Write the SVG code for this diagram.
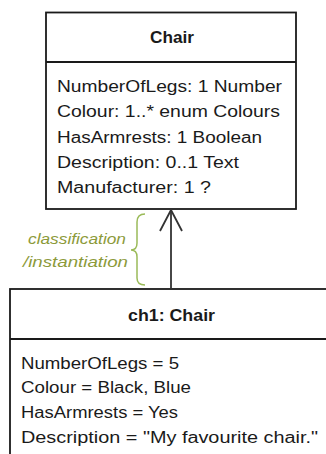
<svg xmlns="http://www.w3.org/2000/svg" width="326" height="454" viewBox="0 0 326 454">
<style>
.box{fill:#fff;stroke:#1a1a1a;stroke-width:1.8}
.t{font-family:"Liberation Sans",Arial,sans-serif;font-size:16px;fill:#1a1a1a}
.b{font-weight:bold;text-anchor:middle}
.g{font-family:"Liberation Sans",Arial,sans-serif;font-size:15px;font-style:italic;fill:#8c9a3a}
.conn{stroke:#333;stroke-width:1.8;fill:none}
</style>
<rect width="326" height="454" fill="#fff"/>
<g id="chair">
<rect class="box" x="46" y="12.5" width="250" height="196.5"/>
<line class="box" x1="46" y1="62" x2="296" y2="62"/>
<text class="t b" x="172" y="43" textLength="44" lengthAdjust="spacingAndGlyphs">Chair</text>
<text class="t" x="57" y="92" textLength="225" lengthAdjust="spacingAndGlyphs">NumberOfLegs: 1 Number</text>
<text class="t" x="57" y="117" textLength="223" lengthAdjust="spacingAndGlyphs">Colour: 1..* enum Colours</text>
<text class="t" x="57" y="143" textLength="205" lengthAdjust="spacingAndGlyphs">HasArmrests: 1 Boolean</text>
<text class="t" x="57" y="168" textLength="182" lengthAdjust="spacingAndGlyphs">Description: 0..1 Text</text>
<text class="t" x="57" y="193" textLength="154" lengthAdjust="spacingAndGlyphs">Manufacturer: 1 ?</text>
</g>
<g id="ch1">
<rect class="box" x="10" y="289" width="330" height="180"/>
<line class="box" x1="10" y1="339" x2="340" y2="339"/>
<text class="t b" x="171.5" y="321" textLength="87" lengthAdjust="spacingAndGlyphs">ch1: Chair</text>
<text class="t" x="21" y="369" textLength="158" lengthAdjust="spacingAndGlyphs">NumberOfLegs = 5</text>
<text class="t" x="21" y="393" textLength="170" lengthAdjust="spacingAndGlyphs">Colour = Black, Blue</text>
<text class="t" x="21" y="418" textLength="157" lengthAdjust="spacingAndGlyphs">HasArmrests = Yes</text>
<text class="t" x="21" y="443" textLength="297" lengthAdjust="spacingAndGlyphs">Description = "My favourite chair."</text>
</g>
<g id="connectors">
<line class="conn" x1="171" y1="289" x2="171" y2="210"/>
<polyline class="conn" points="160,231 171,210 182,231"/>
<path d="M145,214 Q137,214 137,222 L137,243 Q137,250 131,250 Q137,250 137,257 L137,278 Q137,285 145,285" fill="none" stroke="#9bbb59" stroke-width="1.5"/>
<text class="g" x="28" y="244" textLength="98" lengthAdjust="spacingAndGlyphs">classification</text>
<text class="g" x="23" y="267" textLength="105" lengthAdjust="spacingAndGlyphs">/instantiation</text>
</g>
</svg>
